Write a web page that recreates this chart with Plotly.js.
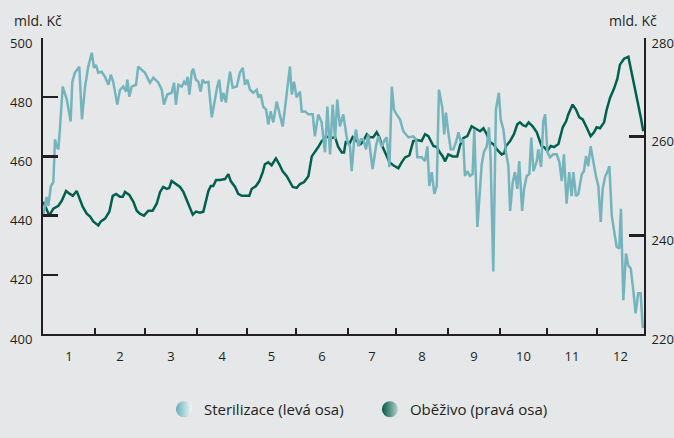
<!DOCTYPE html>
<html>
<head>
<meta charset="utf-8">
<script src="https://cdn.plot.ly/plotly-3.0.1.min.js"></script>
<style>html,body{margin:0;padding:0;background:#e6e7e9;}</style>
</head>
<body>
<div id="chart" style="width:674px;height:438px;"></div>
<script>
// Month labels and month boundaries (business-day index)
const monthLabels = ['1','2','3','4','5','6','7','8','9','10','11','12'];
const monthEnds = [0, 21.6, 42.4, 64.1, 84.9, 105.2, 126.9, 146.8, 168.5, 190.1, 209.7, 230.4, 250.0];

// Sterilizace (left axis, mld. Kč)
const sterDay = [0,1.5,2.2,3.3,4.3,5.0,5.7,6.4,7.1,8.2,9.9,11.5,12.2,13.3,15.1,16.2,17.5,18.8,20.3,21.2,22.0,23.0,24.4,25.8,27.2,28.2,29.2,30.9,32.0,33.4,34.5,35.1,35.9,36.9,38.7,39.6,42.4,44.5,45.9,48.0,49.4,50.3,51.7,53.5,54.5,55.3,56.3,57.7,58.7,59.5,60.2,60.9,61.9,62.5,63.6,64.6,65.6,66.4,67.4,68.8,70.2,71.5,72.5,73.3,74.3,75.0,76.1,76.7,77.8,78.9,80.6,81.9,83.1,84.0,85.0,86.1,87.5,88.9,89.6,90.6,91.6,92.8,93.7,94.7,95.8,97.2,98.3,99.7,101.1,102.7,103.5,104.4,105.5,106.9,107.6,109.0,110.4,112.2,113.1,114.5,115.9,117.3,118.3,119.4,120.5,121.5,122.4,123.5,124.9,125.6,126.6,127.7,128.4,129.4,130.2,131.2,132.2,133.2,134.4,135.3,136.0,137.1,138.5,139.5,140.9,142.3,143.0,144.1,145.1,146.0,147.1,148.5,149.9,152.0,154.0,155.2,155.7,157.5,158.9,159.9,160.7,161.7,162.8,163.8,164.7,166.1,166.9,167.6,168.6,169.6,170.7,171.8,172.8,173.8,174.8,175.5,176.5,177.6,178.7,179.4,180.7,181.5,182.5,183.4,184.6,185.5,186.2,187.3,188.4,189.6,190.4,191.5,192.6,193.6,194.3,195.4,196.3,197.3,198.1,199.3,200.1,201.2,202.3,203.1,204.0,205.4,206.0,207.2,208.1,208.9,209.8,210.9,212.3,213.7,214.8,215.8,216.7,217.8,218.9,219.9,220.6,221.7,222.7,224.1,225.0,225.9,226.8,227.8,228.9,230.0,231.0,232.0,232.8,233.8,234.7,235.6,236.6,237.5,238.6,239.7,240.4,241.4,242.5,243.5,244.5,245.6,246.5,247.6,248.6,249.5];
const sterVal = [439.6,446.3,443.3,450.0,451.3,465.8,463.4,462.4,470.1,483.6,479.2,471.8,485.2,488.3,490.3,472.5,483.6,490.3,495.0,489.9,490.9,488.3,488.6,486.9,484.2,487.6,485.2,477.5,482.5,483.6,481.9,485.9,480.2,483.6,484.2,490.3,488.3,484.9,486.6,484.9,482.5,477.5,480.9,481.5,484.9,477.5,484.2,483.6,485.2,484.2,486.9,480.9,488.6,489.6,485.9,485.2,481.9,485.9,484.9,485.2,473.2,479.9,483.6,485.9,478.5,481.5,478.2,482.5,488.6,483.2,483.6,488.3,489.9,484.2,485.9,482.5,481.5,482.5,479.9,480.9,476.8,475.8,470.8,475.2,471.5,478.5,475.2,470.1,479.2,490.3,480.9,485.2,479.9,481.9,475.2,475.2,474.2,474.2,466.8,474.2,471.5,461.4,476.8,460.7,477.5,465.8,479.2,470.1,474.2,469.8,465.1,463.4,455.0,465.1,469.1,463.4,465.8,465.8,462.4,467.4,462.4,455.7,463.4,466.8,463.4,465.8,466.4,456.4,483.6,475.8,474.2,472.5,468.5,466.4,466.8,465.8,459.7,459.7,458.4,463.4,450.0,454.7,447.3,450.0,482.5,476.5,467.4,474.8,468.1,462.4,462.4,464.8,468.1,464.8,465.8,453.4,455.0,453.4,454.0,469.1,436.2,445.6,457.4,461.4,463.4,469.8,459.1,421.1,475.8,481.5,472.5,469.1,461.4,456.7,441.6,451.3,454.7,449.0,458.4,441.6,449.0,453.4,454.0,466.4,455.0,458.4,462.4,456.4,471.8,474.2,461.4,459.7,460.7,460.7,458.1,451.7,460.7,444.0,454.7,446.6,454.7,446.6,447.3,454.0,455.0,460.1,456.7,463.4,458.1,453.4,450.0,437.9,449.0,453.0,454.7,456.7,439.9,434.6,429.5,428.9,442.3,411.4,427.2,423.1,422.1,414.4,407.0,413.8,413.8,402.0];

// Oběživo (right axis, mld. Kč)
const obeDay = [0.1,1.5,2.6,4.3,6.4,7.8,9.6,11.2,12.4,14.0,15.1,16.5,18.2,19.6,20.9,23.0,24.0,25.8,27.6,29.0,30.4,32.0,33.2,34.1,35.9,37.6,39.0,40.3,42.0,43.8,45.6,47.3,48.7,50.0,51.5,52.5,53.5,55.3,57.0,58.4,59.8,61.1,62.3,63.6,65.3,66.7,67.8,68.8,69.8,70.8,72.0,73.6,75.7,77.1,78.1,79.9,81.2,82.7,84.7,85.8,86.8,88.6,90.0,91.4,92.3,93.7,95.1,96.9,98.3,99.7,101.4,102.7,103.9,105.5,106.9,108.6,110.4,111.8,113.1,114.5,115.9,117.7,119.4,121.5,122.8,124.3,125.2,126.0,127.4,128.8,130.5,132.2,133.2,134.7,136.0,137.4,138.8,139.9,141.3,143.0,144.1,145.7,147.8,149.2,150.6,152.4,154.0,155.7,157.5,158.9,160.3,162.4,163.8,165.1,166.3,167.2,168.6,170.4,172.3,173.5,174.8,176.5,178.3,180.4,181.8,183.2,184.6,185.9,187.3,189.0,190.8,191.8,192.6,194.3,195.9,197.3,198.4,199.8,200.9,202.0,203.7,205.4,206.4,207.4,208.4,209.8,211.2,212.6,214.4,215.4,216.2,217.6,218.5,220.3,221.7,223.1,224.5,225.9,227.8,229.2,230.3,231.7,233.4,234.5,235.9,237.5,238.9,240.0,241.7,243.5,245.3,247.0,248.6,249.7];
const obeVal = [246.8,245.4,244.0,245.4,246.0,247.0,249.0,248.4,248.0,249.0,247.4,245.8,244.4,243.8,242.8,242.0,242.8,243.4,244.8,248.0,248.4,247.8,247.8,248.8,248.2,246.8,245.0,244.4,244.0,245.0,245.0,246.4,248.8,249.8,249.4,249.6,251.0,250.4,249.8,248.8,247.0,245.4,244.2,244.8,244.6,244.8,246.8,249.0,250.0,250.0,251.2,251.2,251.4,252.4,251.0,249.8,248.4,248.0,248.0,248.0,249.4,250.0,251.0,252.8,254.4,254.8,254.2,255.6,254.4,253.0,252.0,250.8,249.8,249.6,250.4,250.8,252.0,256.0,256.8,257.9,259.1,260.1,259.7,259.9,257.9,256.8,256.8,259.1,258.5,259.9,259.1,258.5,259.1,260.5,259.9,259.9,260.9,259.9,257.9,256.0,254.8,254.2,253.6,254.8,255.8,256.2,259.1,259.3,259.1,260.5,260.1,258.1,257.9,256.8,256.0,255.0,256.4,256.0,256.0,258.3,259.7,260.1,262.1,261.5,261.1,261.7,260.5,258.9,258.5,257.3,256.4,256.6,258.1,259.1,260.5,262.5,262.9,262.3,262.1,262.9,262.1,260.9,259.5,258.1,257.9,257.1,258.1,257.9,258.5,260.1,261.9,263.1,264.5,266.5,265.5,263.9,263.5,262.1,260.1,260.9,261.9,261.7,262.9,265.5,267.9,269.7,271.7,274.6,275.8,276.2,272.1,268.1,264.1,261.1];

const seriesNames = ['Sterilizace (levá osa)', 'Oběživo (pravá osa)'];
const leftTicks = [400, 420, 440, 460, 480, 500];
const rightTicks = [220, 240, 260, 280];

const ink = '#231f20';
const font = 'Open Sans, sans-serif';
const boundaries = monthEnds.slice(1, -1);
const mids = monthLabels.map((_, i) => (monthEnds[i] + monthEnds[i + 1]) / 2);
const xr = [monthEnds[0], monthEnds[monthEnds.length - 1]];

const traces = [
  {x: sterDay, y: sterVal, xaxis: 'x2', yaxis: 'y', mode: 'lines', showlegend: false,
   line: {color: '#74b4bc', width: 2.5}, hoverinfo: 'skip'},
  {x: obeDay, y: obeVal, xaxis: 'x', yaxis: 'y2', mode: 'lines', showlegend: false,
   line: {color: '#00604f', width: 2.5}, hoverinfo: 'skip'},
  {x: [null], y: [null], xaxis: 'x', yaxis: 'y', mode: 'markers', name: seriesNames[0],
   marker: {symbol: 'circle', size: 22, color: '#6aaeb7', gradient: {type: 'horizontal', color: '#f0f7f8'}}},
  {x: [null], y: [null], xaxis: 'x', yaxis: 'y', mode: 'markers', name: seriesNames[1],
   marker: {symbol: 'circle', size: 22, color: '#005a49', gradient: {type: 'horizontal', color: '#b9cfc8'}}}
];

const layout = {
  width: 674, height: 438,
  paper_bgcolor: '#e6e7e9', plot_bgcolor: '#e6e7e9',
  margin: {l: 43, r: 30, t: 38, b: 102, pad: 0},
  font: {family: font, size: 13, color: ink},
  xaxis: {range: xr, tickvals: boundaries, showticklabels: false, ticks: 'inside', ticklen: 6,
          tickwidth: 2, tickcolor: ink, showline: true, linecolor: ink, linewidth: 2,
          showgrid: false, zeroline: false, anchor: 'y', fixedrange: true},
  xaxis2: {range: xr, overlaying: 'x', anchor: 'y', side: 'bottom', tickvals: mids, ticktext: monthLabels,
           ticks: '', showline: false, showgrid: false, zeroline: false, ticklabelstandoff: 13,
           tickfont: {family: font, size: 13, color: ink}, fixedrange: true},
  yaxis: {range: [400, 500], tickvals: leftTicks, ticks: 'inside', ticklen: 15, tickwidth: 2.5,
          tickcolor: ink, showline: true, linecolor: ink, linewidth: 2, showgrid: false, zeroline: false,
          ticklabelshift: 5, ticklabelstandoff: 6, tickfont: {family: font, size: 13, color: ink},
          anchor: 'x', fixedrange: true},
  yaxis2: {range: [220, 280], tickvals: rightTicks, overlaying: 'y', side: 'right', anchor: 'x',
           ticks: 'inside', ticklen: 15, tickwidth: 2.5, tickcolor: ink, showline: true, linecolor: ink,
           linewidth: 2, showgrid: false, zeroline: false, ticklabelshift: 5, ticklabelstandoff: 3,
           tickfont: {family: font, size: 13, color: ink}, fixedrange: true},
  showlegend: true,
  legend: {orientation: 'h', x: 0.544, xanchor: 'center', y: -0.255, yanchor: 'middle', entrywidth: 161,
           bgcolor: 'rgba(0,0,0,0)', font: {family: font, size: 15, color: ink}, itemclick: false, itemdoubleclick: false},
  annotations: [
    {text: 'mld. Kč', xref: 'paper', yref: 'paper', x: -0.0516, y: 1.058, xanchor: 'left', yanchor: 'middle',
     showarrow: false, font: {family: font, size: 14, color: ink}},
    {text: 'mld. Kč', xref: 'paper', yref: 'paper', x: 1.025, y: 1.058, xanchor: 'right', yanchor: 'middle',
     showarrow: false, font: {family: font, size: 14, color: ink}}
  ]
};

Plotly.newPlot('chart', traces, layout, {displayModeBar: false, staticPlot: true});
</script>
</body>
</html>
